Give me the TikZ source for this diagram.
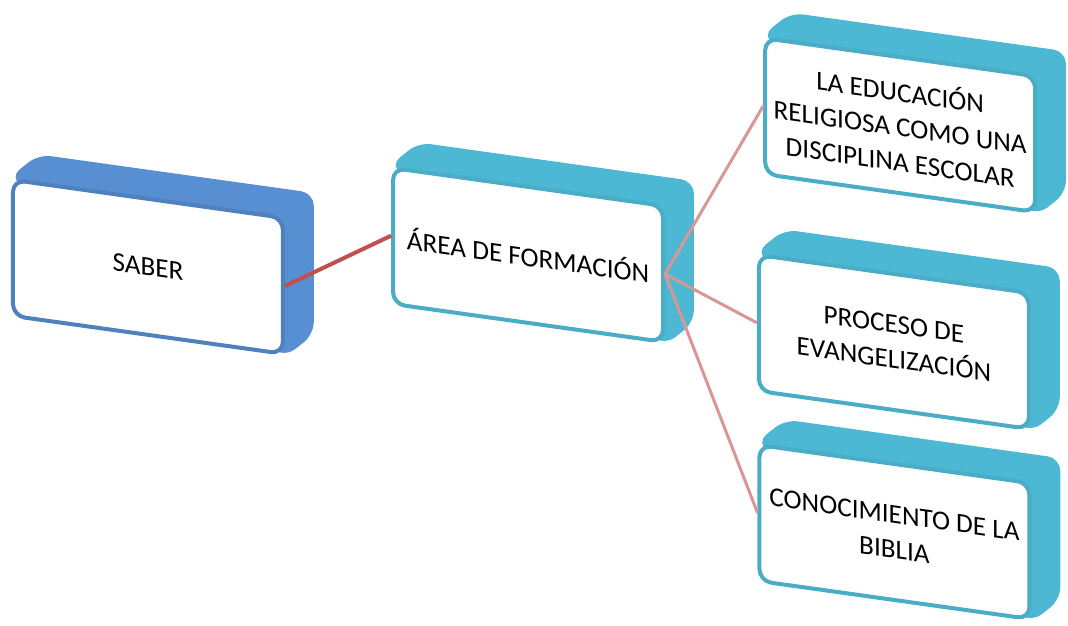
\documentclass[tikz,border=0pt]{standalone}
\usepackage{fontspec}
\setmainfont{Carlito}
\usetikzlibrary{backgrounds}

\definecolor{saberblue}{RGB}{79,129,189}
\definecolor{saberside}{RGB}{88,142,210}
\definecolor{aqua}{RGB}{75,172,198}
\definecolor{aquaside}{RGB}{76,184,212}
\definecolor{linkdark}{RGB}{192,80,77}
\definecolor{linklight}{RGB}{217,150,148}

\begin{document}
\begin{tikzpicture}[
    box/.style={
        rectangle,
        rounded corners=6pt,
        draw=#1,
        line width=2pt,
        fill=white,
        align=center,
        font=\fontsize{13.6}{17.5}\selectfont,
        minimum width=135pt,
        minimum height=68pt,
        inner sep=2pt,
        yslant=-0.14
    },
    side/.style={
        fill=#1,
        draw=#1,
        rounded corners=6pt,
        line width=1pt
    },
    link/.style={
        draw=#1,
        line width=1.5pt
    }
]
\useasboundingbox (0,0) rectangle (18.77,11.0);

%% Left nodes
\node[box=saberblue] (saber) at (2.60,6.31) {SABER};
\node[box=aqua] (area) at (9.28,6.52) {ÁREA DE FORMACIÓN};

%% Right column
\node[box=aqua] (escolar) at (15.82,8.80) {LA EDUCACIÓN\\RELIGIOSA COMO UNA\\DISCIPLINA ESCOLAR};
\node[box=aqua] (evangel) at (15.71,4.99) {PROCESO DE\\EVANGELIZACIÓN};
\node[box=aqua] (biblia) at (15.72,1.65) {CONOCIMIENTO DE LA\\BIBLIA};

%% Depth of the boxes
\begin{scope}[on background layer]
    \foreach \n/\c in {saber/saberside, area/aquaside, escolar/aquaside, evangel/aquaside, biblia/aquaside}
        \path[side=\c] (\n.north west) -- ([shift={(0.49,0.39)}]\n.north west)
            -- ([shift={(0.49,0.39)}]\n.north east) -- ([shift={(0.49,0.39)}]\n.south east)
            -- (\n.south east) -- cycle;
\end{scope}

%% Connections
\draw[link=linkdark, line width=2pt] (saber.east) -- (area.west);
\draw[link=linklight] (area.east) -- (escolar.west);
\draw[link=linklight] (area.east) -- (evangel.west);
\draw[link=linklight] (area.east) -- (biblia.west);

\end{tikzpicture}
\end{document}
